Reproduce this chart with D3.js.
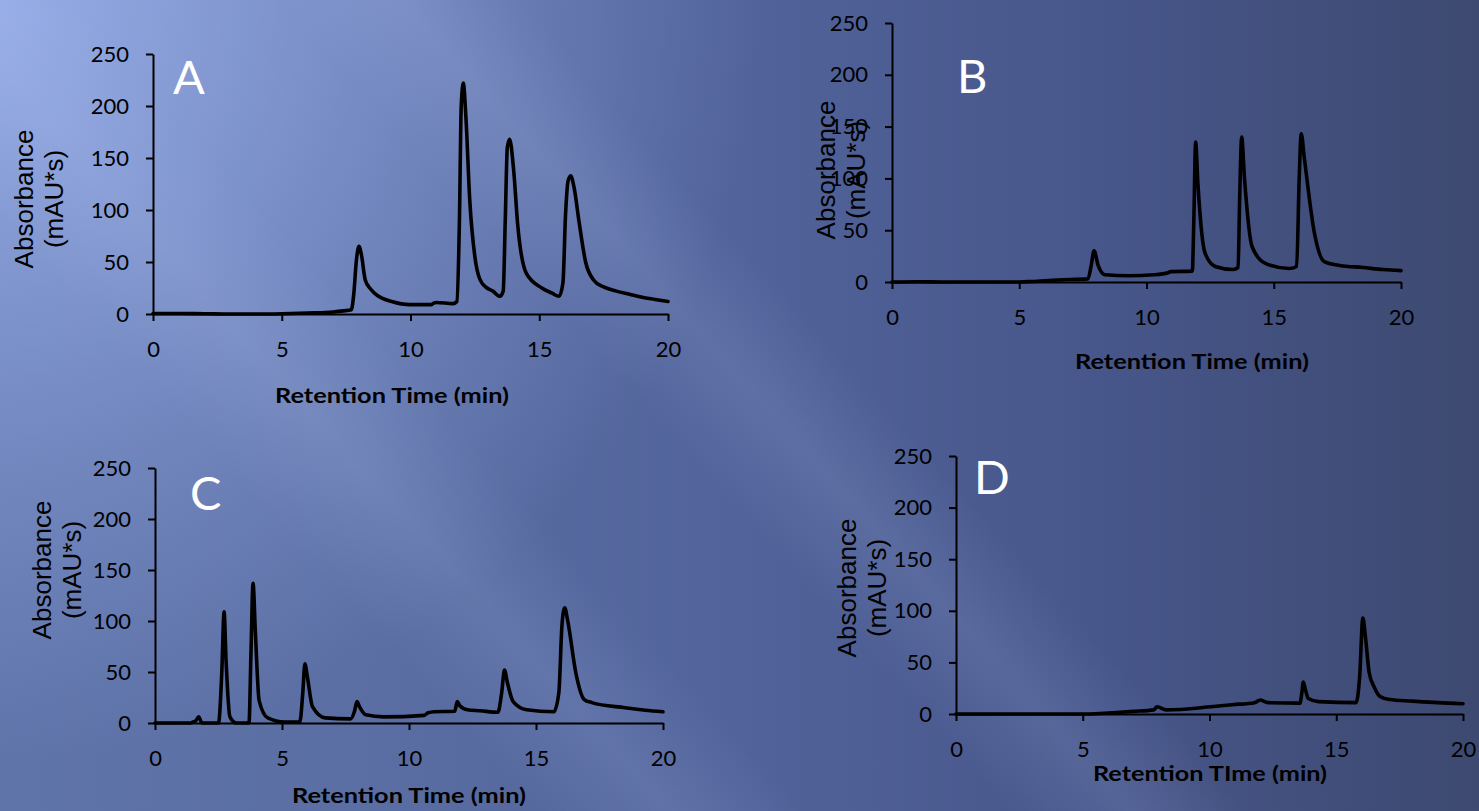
<!DOCTYPE html>
<html>
<head>
<meta charset="utf-8">
<script src="https://cdn.jsdelivr.net/npm/d3@7"></script>
<style>
  body { margin: 0; overflow: hidden; background: #52649a; }
  .tick text { font-family: Lato, "Open Sans", sans-serif; font-size: 22px; fill: #000; }
  .tick line, .domain { stroke: #000; stroke-width: 2px; }
</style>
</head>
<body>
<script>
// chromatograms
var width = 1479;
var height = 811;

var yTicks = [0, 50, 100, 150, 200, 250];
var xTicks = [0, 5, 10, 15, 20];

// A
var timeA = [0, 1, 2, 3, 4, 5, 6, 7, 7.4, 7.7, 7.8, 7.9, 8.0, 8.1, 8.24, 8.45, 8.76, 9.27, 9.97, 10.8, 10.9, 11.0, 11.66, 11.8, 11.9, 11.97, 12.05, 12.15, 12.3, 12.5, 12.7, 12.97, 13.2, 13.47, 13.6, 13.68, 13.76, 13.85, 14.0, 14.17, 14.5, 15.1, 15.5, 15.77, 15.92, 16.02, 16.12, 16.22, 16.35, 16.55, 16.8, 17.1, 17.5, 18, 18.5, 19, 19.5, 20];
var absA =  [0.5, 0.5, 0.3, 0, 0, 0.3, 1, 2, 3, 4, 20, 52, 65, 56, 33, 24, 17, 12, 9, 9, 10.5, 11, 10, 12, 90, 200, 222, 190, 110, 55, 33, 25, 22, 17, 22, 90, 160, 168, 140, 84, 39, 25, 20, 17, 30, 95, 128, 133, 122, 88, 50, 33, 26, 22, 19, 16, 14, 12];

// B
var timeB = [0, 1, 2, 3, 4, 5, 5.5, 6.5, 7.7, 7.82, 7.94, 8.1, 8.37, 9.3, 10.3, 10.85, 10.95, 11.8, 11.86, 11.93, 12.02, 12.3, 12.7, 13.4, 13.6, 13.66, 13.74, 13.85, 14.15, 14.67, 15.6, 15.9, 16.0, 16.08, 16.2, 16.6, 16.97, 17.6, 18.5, 19.3, 20];
var absB =  [0, 0.3, 0, 0, 0, 0, 0.5, 2, 3, 15, 30, 16, 7, 6, 7, 9, 10, 10.5, 60, 135, 95, 28, 15, 12, 14, 80, 140, 100, 34, 18, 13, 15, 100, 143, 120, 47, 20, 16, 14, 12, 11];

// C
var timeC = [0, 1, 1.4, 1.5, 1.6, 1.72, 1.85, 2.5, 2.63, 2.72, 2.8, 2.95, 3.2, 3.7, 3.78, 3.86, 3.95, 4.1, 4.44, 5.1, 5.7, 5.82, 5.9, 6.0, 6.2, 6.7, 7.7, 7.86, 7.95, 8.05, 8.3, 9.0, 10.6, 10.75, 11.0, 11.8, 11.9, 12.0, 12.3, 12.8, 13.5, 13.65, 13.76, 13.87, 14.1, 14.63, 15.7, 15.9, 16.02, 16.13, 16.25, 16.57, 16.9, 17.2, 18.5, 19.3, 20];
var absC =  [0, 0, 0, 1, 2, 6, 0, 0, 50, 109, 60, 6, 0, 0, 70, 137, 90, 22, 5, 1, 1, 30, 58, 45, 16, 5, 4, 12, 21, 16, 8, 6, 7.5, 10, 11, 11.5, 21, 17, 13, 12, 10.5, 30, 52, 40, 21, 13, 11, 30, 95, 113, 100, 49, 23, 20, 15, 12.5, 11];

// D
var timeD = [0, 1, 2, 3, 4, 5, 5.5, 6, 7, 7.8, 7.93, 8.3, 10.05, 10.9, 11.78, 12.0, 12.3, 13.57, 13.64, 13.7, 13.78, 13.9, 14.3, 15.78, 15.92, 16.05, 16.15, 16.3, 16.5, 16.73, 17.1, 18, 19, 20];
var absD =  [0, 0, 0, 0, 0, 0, 0.3, 1, 2.5, 4, 7, 4, 7, 9, 11, 13.5, 11, 10.5, 20, 31, 24, 15, 12, 11, 35, 93, 75, 40, 26, 17, 14, 12.5, 11, 10];

var panels = [
  {letter: "A", t: timeA, v: absA, x0: 153, x1: 668, y0: 314, y1: 54,
   lx: 173, ly: 94, tx: 392, ty: 403, ax: 33, ay: 199, xTitle: "Retention Time (min)"},
  {letter: "B", t: timeB, v: absB, x0: 892, x1: 1401, y0: 282, y1: 23,
   lx: 957, ly: 93, tx: 1192, ty: 369, ax: 835, ay: 170, xTitle: "Retention Time (min)"},
  {letter: "C", t: timeC, v: absC, x0: 155, x1: 663, y0: 723, y1: 468,
   lx: 190, ly: 510, tx: 409, ty: 803, ax: 51, ay: 570, xTitle: "Retention Time (min)"},
  {letter: "D", t: timeD, v: absD, x0: 956, x1: 1463, y0: 714, y1: 456,
   lx: 974, ly: 494, tx: 1210, ty: 781, ax: 856, ay: 588, xTitle: "Retention TIme (min)"}
];

var svg = d3.select("body").append("svg").attr("width", width).attr("height", height);
var defs = svg.append("defs");

// slide background
var bg = defs.append("linearGradient").attr("id", "bg")
  .attr("gradientUnits", "userSpaceOnUse")
  .attr("x1", 0).attr("y1", 0).attr("x2", width).attr("y2", 0);
bg.append("stop").attr("offset", "0").attr("stop-color", "#5f74a9");
bg.append("stop").attr("offset", "0.25").attr("stop-color", "#5a6ea3");
bg.append("stop").attr("offset", "0.5").attr("stop-color", "#51639a");
bg.append("stop").attr("offset", "0.75").attr("stop-color", "#47568a");
bg.append("stop").attr("offset", "1").attr("stop-color", "#3d4970");

var glow = defs.append("radialGradient").attr("id", "glow")
  .attr("gradientUnits", "userSpaceOnUse")
  .attr("cx", 0).attr("cy", 0).attr("r", 760);
glow.append("stop").attr("offset", "0").attr("stop-color", "#a0b6f2").attr("stop-opacity", 0.85);
glow.append("stop").attr("offset", "0.6").attr("stop-color", "#a0b6f2").attr("stop-opacity", 0.3);
glow.append("stop").attr("offset", "1").attr("stop-color", "#a0b6f2").attr("stop-opacity", 0);

var band = defs.append("linearGradient").attr("id", "band")
  .attr("x1", "0").attr("y1", "0").attr("x2", "1").attr("y2", "0");
band.append("stop").attr("offset", "0").attr("stop-color", "#b8c8f5").attr("stop-opacity", 0);
band.append("stop").attr("offset", "0.5").attr("stop-color", "#b8c8f5").attr("stop-opacity", 0.13);
band.append("stop").attr("offset", "1").attr("stop-color", "#b8c8f5").attr("stop-opacity", 0);

svg.append("rect").attr("width", width).attr("height", height).attr("fill", "url(#bg)");
svg.append("rect").attr("width", width).attr("height", height).attr("fill", "url(#glow)");

var bands = [{cx: 300, w: 200}, {cx: 760, w: 180}];
svg.selectAll(".band").data(bands).enter().append("rect")
  .attr("class", "band")
  .attr("x", function(d){ return d.cx - d.w / 2; })
  .attr("y", -900)
  .attr("width", function(d){ return d.w; })
  .attr("height", 2600)
  .attr("fill", "url(#band)")
  .attr("transform", function(d){ return "rotate(-42," + d.cx + ",400)"; });

panels.forEach(function(p){
  var x = d3.scaleLinear().domain([0, 20]).range([p.x0, p.x1]);
  var y = d3.scaleLinear().domain([0, 250]).range([p.y0, p.y1]);
  var g = svg.append("g");

  g.append("g").attr("transform", "translate(" + p.x0 + ",0)")
    .call(d3.axisLeft(y).tickValues(yTicks).tickSize(7).tickSizeOuter(0).tickPadding(17));

  var xAxis = g.append("g").attr("transform", "translate(0," + p.y0 + ")")
    .call(d3.axisBottom(x).tickValues(xTicks).tickSize(7).tickSizeOuter(0));
  xAxis.selectAll(".tick text").attr("y", 43).attr("dy", null);

  var pts = p.t.map(function(t, i){ return [t, p.v[i]]; });
  var line = d3.line()
    .x(function(d){ return x(d[0]); })
    .y(function(d){ return y(d[1]); })
    .curve(d3.curveMonotoneX);
  g.append("path").datum(pts)
    .attr("d", line)
    .attr("fill", "none")
    .attr("stroke", "#000")
    .attr("stroke-width", 3.6)
    .attr("stroke-linejoin", "round")
    .attr("stroke-linecap", "round");

  g.append("text")
    .attr("x", p.lx).attr("y", p.ly)
    .attr("font-family", "Lato, sans-serif")
    .attr("font-size", 47)
    .attr("fill", "#fff")
    .text(p.letter);

  g.append("text")
    .attr("x", p.tx).attr("y", p.ty)
    .attr("text-anchor", "middle")
    .attr("font-family", "Lato, sans-serif")
    .attr("font-weight", "bold")
    .attr("font-size", 21)
    .attr("textLength", 234)
    .attr("lengthAdjust", "spacingAndGlyphs")
    .attr("fill", "#000")
    .text(p.xTitle);

  var yt = g.append("text")
    .attr("transform", "translate(" + p.ax + "," + p.ay + ") rotate(-90)")
    .attr("text-anchor", "middle")
    .attr("font-family", "'Liberation Sans', Arial, sans-serif")
    .attr("font-size", 26)
    .attr("fill", "#000");
  yt.append("tspan").attr("x", 0).attr("y", 0).text("Absorbance");
  yt.append("tspan").attr("x", 0).attr("y", 30).text("(mAU*s)");
});
</script>
</body>
</html>
